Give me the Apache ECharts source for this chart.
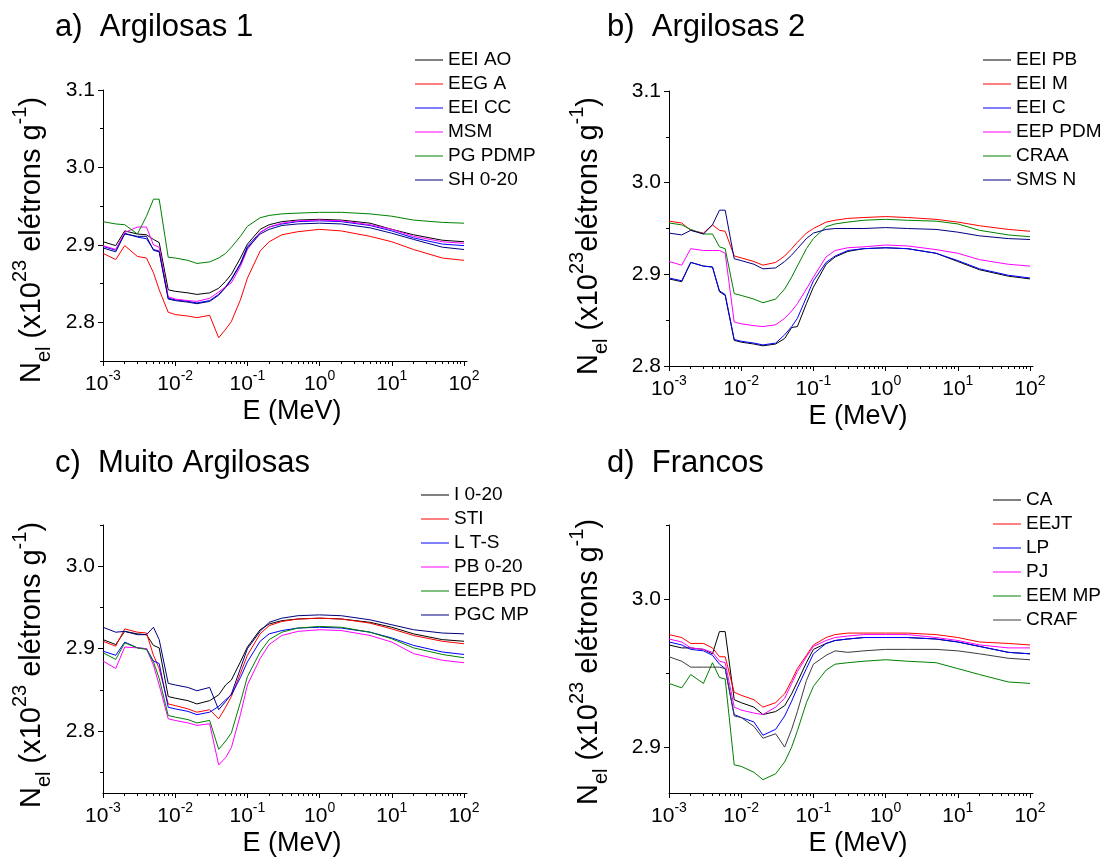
<!DOCTYPE html>
<html>
<head>
<meta charset="utf-8">
<script src="https://cdn.jsdelivr.net/npm/echarts@6/dist/echarts.min.js"></script>
<style>
  html, body { margin: 0; padding: 0; background: #ffffff; }
  #chart { width: 1107px; height: 858px; }
</style>
</head>
<body>
<div id="chart"></div>
<script>
// Photon energy grid (MeV)
const energyMeV = [0.001, 0.0015, 0.002, 0.003, 0.004, 0.005, 0.006, 0.008, 0.01, 0.015, 0.02, 0.03, 0.04, 0.05, 0.06, 0.08,
  0.1, 0.15, 0.2, 0.3, 0.5, 1, 2, 5, 10, 20, 50, 100];

// a) Argilosas 1
const namesA = ['EEI AO', 'EEG A', 'EEI CC', 'MSM', 'PG PDMP', 'SH 0-20'];
const eeiAO  = [2.904, 2.899, 2.918, 2.914, 2.913, 2.907, 2.903, 2.842, 2.840, 2.838, 2.836, 2.838, 2.844, 2.853, 2.862, 2.883, 2.901, 2.920, 2.926, 2.930, 2.932, 2.933, 2.932, 2.928, 2.920, 2.913, 2.906, 2.904];
const eegA   = [2.889, 2.881, 2.899, 2.885, 2.883, 2.864, 2.842, 2.813, 2.810, 2.808, 2.806, 2.809, 2.780, 2.791, 2.801, 2.829, 2.857, 2.892, 2.904, 2.913, 2.917, 2.920, 2.918, 2.911, 2.904, 2.894, 2.883, 2.880];
const eeiCC  = [2.898, 2.893, 2.915, 2.910, 2.908, 2.894, 2.892, 2.831, 2.829, 2.827, 2.825, 2.828, 2.836, 2.846, 2.856, 2.876, 2.898, 2.916, 2.923, 2.927, 2.930, 2.931, 2.930, 2.925, 2.918, 2.909, 2.901, 2.899];
const msm    = [2.899, 2.894, 2.916, 2.923, 2.923, 2.900, 2.897, 2.833, 2.830, 2.828, 2.827, 2.831, 2.839, 2.846, 2.851, 2.872, 2.894, 2.916, 2.923, 2.928, 2.931, 2.932, 2.931, 2.926, 2.920, 2.911, 2.904, 2.902];
const pgPDMP = [2.930, 2.927, 2.926, 2.914, 2.937, 2.959, 2.959, 2.884, 2.883, 2.880, 2.876, 2.878, 2.883, 2.889, 2.897, 2.911, 2.924, 2.935, 2.938, 2.940, 2.941, 2.942, 2.942, 2.940, 2.937, 2.932, 2.929, 2.928];
const sh020  = [2.896, 2.891, 2.914, 2.911, 2.911, 2.893, 2.891, 2.830, 2.828, 2.826, 2.824, 2.827, 2.835, 2.845, 2.855, 2.875, 2.896, 2.914, 2.920, 2.925, 2.927, 2.928, 2.927, 2.922, 2.915, 2.907, 2.897, 2.894];

// b) Argilosas 2
const namesB = ['EEI PB', 'EEI M', 'EEI C', 'EEP PDM', 'CRAA', 'SMS N'];
const eeiPB  = [2.895, 2.892, 2.913, 2.909, 2.908, 2.881, 2.877, 2.828, 2.826, 2.824, 2.822, 2.824, 2.830, 2.842, 2.843, 2.868, 2.886, 2.911, 2.919, 2.925, 2.928, 2.929, 2.928, 2.923, 2.914, 2.905, 2.898, 2.895];
const eeiM   = [2.958, 2.956, 2.948, 2.945, 2.954, 2.948, 2.947, 2.920, 2.918, 2.914, 2.910, 2.913, 2.920, 2.928, 2.935, 2.945, 2.950, 2.957, 2.959, 2.961, 2.962, 2.963, 2.962, 2.960, 2.957, 2.953, 2.949, 2.947];
const eeiC   = [2.896, 2.893, 2.913, 2.909, 2.908, 2.882, 2.878, 2.829, 2.827, 2.825, 2.823, 2.825, 2.834, 2.843, 2.852, 2.875, 2.893, 2.913, 2.920, 2.926, 2.928, 2.929, 2.928, 2.923, 2.915, 2.906, 2.899, 2.896];
const eepPDM = [2.914, 2.910, 2.928, 2.926, 2.926, 2.926, 2.923, 2.848, 2.846, 2.844, 2.843, 2.845, 2.852, 2.860, 2.868, 2.884, 2.897, 2.919, 2.926, 2.929, 2.930, 2.932, 2.931, 2.927, 2.923, 2.916, 2.911, 2.909];
const craa   = [2.956, 2.954, 2.949, 2.944, 2.944, 2.930, 2.928, 2.879, 2.877, 2.873, 2.869, 2.873, 2.884, 2.897, 2.909, 2.928, 2.939, 2.952, 2.955, 2.957, 2.959, 2.960, 2.959, 2.958, 2.955, 2.948, 2.943, 2.941];
const smsN   = [2.945, 2.943, 2.948, 2.944, 2.954, 2.970, 2.970, 2.917, 2.915, 2.911, 2.906, 2.907, 2.914, 2.921, 2.928, 2.939, 2.945, 2.949, 2.950, 2.950, 2.950, 2.951, 2.950, 2.949, 2.946, 2.942, 2.939, 2.938];

// c) Muito Argilosas
const namesC = ['I 0-20', 'STI', 'L T-S', 'PB 0-20', 'EEPB PD', 'PGC MP'];
const i020   = [2.911, 2.905, 2.921, 2.918, 2.917, 2.904, 2.901, 2.842, 2.840, 2.837, 2.833, 2.837, 2.844, 2.856, 2.862, 2.884, 2.902, 2.923, 2.930, 2.934, 2.936, 2.937, 2.936, 2.932, 2.926, 2.918, 2.911, 2.909];
const sti    = [2.909, 2.903, 2.924, 2.920, 2.919, 2.892, 2.876, 2.833, 2.831, 2.827, 2.823, 2.826, 2.815, 2.829, 2.842, 2.870, 2.892, 2.918, 2.928, 2.933, 2.936, 2.937, 2.936, 2.931, 2.924, 2.916, 2.909, 2.906];
const lTS    = [2.897, 2.892, 2.908, 2.901, 2.900, 2.885, 2.882, 2.829, 2.827, 2.824, 2.820, 2.823, 2.830, 2.838, 2.844, 2.865, 2.884, 2.909, 2.918, 2.922, 2.925, 2.926, 2.925, 2.920, 2.913, 2.904, 2.896, 2.893];
const pb020  = [2.885, 2.876, 2.902, 2.901, 2.900, 2.880, 2.856, 2.815, 2.813, 2.810, 2.807, 2.809, 2.759, 2.768, 2.780, 2.820, 2.856, 2.888, 2.905, 2.916, 2.921, 2.923, 2.922, 2.916, 2.908, 2.894, 2.886, 2.883];
const eepbPD = [2.895, 2.887, 2.907, 2.901, 2.899, 2.884, 2.864, 2.819, 2.817, 2.814, 2.810, 2.813, 2.778, 2.788, 2.798, 2.835, 2.866, 2.896, 2.911, 2.920, 2.925, 2.927, 2.926, 2.920, 2.912, 2.901, 2.893, 2.889];
const pgcMP  = [2.926, 2.920, 2.921, 2.917, 2.917, 2.926, 2.911, 2.858, 2.856, 2.853, 2.849, 2.853, 2.826, 2.836, 2.845, 2.876, 2.900, 2.921, 2.932, 2.937, 2.940, 2.941, 2.940, 2.935, 2.929, 2.923, 2.919, 2.918];

// d) Francos
const namesD = ['CA', 'EEJT', 'LP', 'PJ', 'EEM MP', 'CRAF'];
const ca     = [2.969, 2.967, 2.967, 2.966, 2.963, 2.978, 2.978, 2.932, 2.930, 2.927, 2.922, 2.924, 2.928, 2.936, 2.944, 2.957, 2.966, 2.970, 2.972, 2.973, 2.974, 2.974, 2.974, 2.973, 2.971, 2.968, 2.964, 2.963];
const eejt   = [2.976, 2.974, 2.970, 2.970, 2.967, 2.961, 2.961, 2.937, 2.935, 2.932, 2.927, 2.930, 2.936, 2.945, 2.953, 2.962, 2.969, 2.974, 2.976, 2.977, 2.977, 2.977, 2.977, 2.976, 2.974, 2.971, 2.970, 2.969];
const lp     = [2.971, 2.969, 2.966, 2.965, 2.962, 2.956, 2.953, 2.922, 2.920, 2.917, 2.908, 2.912, 2.921, 2.931, 2.940, 2.953, 2.963, 2.970, 2.972, 2.973, 2.974, 2.974, 2.974, 2.973, 2.971, 2.968, 2.964, 2.963];
const pj     = [2.973, 2.971, 2.967, 2.966, 2.964, 2.958, 2.957, 2.927, 2.925, 2.923, 2.922, 2.927, 2.933, 2.943, 2.951, 2.961, 2.968, 2.972, 2.974, 2.975, 2.976, 2.976, 2.976, 2.974, 2.972, 2.969, 2.967, 2.967];
const eemMP  = [2.943, 2.940, 2.949, 2.943, 2.957, 2.947, 2.946, 2.888, 2.887, 2.883, 2.878, 2.882, 2.890, 2.900, 2.911, 2.930, 2.941, 2.952, 2.956, 2.957, 2.958, 2.959, 2.958, 2.957, 2.953, 2.949, 2.944, 2.943];
const craf   = [2.961, 2.958, 2.954, 2.954, 2.954, 2.954, 2.953, 2.921, 2.920, 2.914, 2.906, 2.909, 2.900, 2.912, 2.924, 2.945, 2.956, 2.962, 2.965, 2.964, 2.965, 2.966, 2.966, 2.966, 2.965, 2.963, 2.960, 2.959];

// Axis tick positions
const xMajorTicks = [0.001, 0.01, 0.1, 1, 10, 100];
const yMajorTicksAB = [2.8, 2.9, 3.0, 3.1];
const yMinorTicksA = [2.75, 2.85, 2.95, 3.05];
const yMinorTicksB = [2.85, 2.95, 3.05];
const yMajorTicksC = [2.8, 2.9, 3.0];
const yMinorTicksC = [2.75, 2.85, 2.95, 3.05];
const yMajorTicksD = [2.9, 3.0];
const yMinorTicksD = [2.95, 3.05];

const FONT = '"Liberation Sans", Arial, Helvetica, sans-serif';
const palette = ['#000000', '#ff0000', '#0000ff', '#ff00ff', '#008000', '#000080'];
const paletteD = ['#000000', '#ff0000', '#0000ff', '#ff00ff', '#008000', '#3c3c3c'];

// minor ticks of the log axis: 2..9 x 10^n
const xMinorTicks = [];
for (let p = -3; p <= 1; p++) {
  for (let k = 2; k <= 9; k++) xMinorTicks.push(+(k * Math.pow(10, p)).toPrecision(3));
}

const panels = [
  { title: 'a)  Argilosas 1', names: namesA, values: [eeiAO, eegA, eeiCC, msm, pgPDMP, sh020], colors: palette,
    grid: { left: 103, top: 90, width: 364, height: 271 }, yMin: 2.75, yMax: 3.1,
    yMajor: yMajorTicksAB, yMinor: yMinorTicksA, titlePos: [55, 12], legendPos: [415, 50], yName: [32, 240], gap: ' ' },
  { title: 'b)  Argilosas 2', names: namesB, values: [eeiPB, eeiM, eeiC, eepPDM, craa, smsN], colors: palette,
    grid: { left: 669, top: 91, width: 364, height: 275 }, yMin: 2.8, yMax: 3.1,
    yMajor: yMajorTicksAB, yMinor: yMinorTicksB, titlePos: [607, 12], legendPos: [983, 50], yName: [589, 236], gap: '' },
  { title: 'c)  Muito Argilosas', names: namesC, values: [i020, sti, lTS, pb020, eepbPD, pgcMP], colors: palette,
    grid: { left: 103, top: 525, width: 364, height: 271 }, yMin: 2.725, yMax: 3.05,
    yMajor: yMajorTicksC, yMinor: yMinorTicksC, titlePos: [55, 448], legendPos: [421, 485], yName: [32, 665], gap: ' ' },
  { title: 'd)  Francos', names: namesD, values: [ca, eejt, lp, pj, eemMP, craf], colors: paletteD,
    grid: { left: 669, top: 525, width: 364, height: 271 }, yMin: 2.869, yMax: 3.05,
    yMajor: yMajorTicksD, yMinor: yMinorTicksD, titlePos: [607, 448], legendPos: [993, 490], yName: [589, 662], gap: ' ' }
];

const option = {
  animation: false,
  backgroundColor: '#ffffff',
  textStyle: { fontFamily: FONT, color: '#000' },
  title: [], grid: [], xAxis: [], yAxis: [], legend: [], series: [], graphic: []
};

panels.forEach((p, i) => {
  option.title.push({
    text: p.title, left: p.titlePos[0], top: p.titlePos[1], padding: 0,
    textStyle: { fontFamily: FONT, fontSize: 31, fontWeight: 'normal', color: '#000' }
  });
  option.grid.push(Object.assign({ containLabel: false }, p.grid));

  // main x axis (log) with decade ticks and labels
  option.xAxis.push({
    type: 'log', logBase: 10, gridIndex: i, min: 0.001, max: 110,
    axisLine: { show: true, lineStyle: { color: '#000', width: 1 } },
    axisTick: { show: true, inside: false, length: 5, customValues: xMajorTicks, lineStyle: { color: '#000' } },
    axisLabel: {
      customValues: xMajorTicks, margin: 8,
      formatter: v => '{b|10}{s|' + Math.round(Math.log10(v)) + '}',
      rich: {
        b: { fontFamily: FONT, fontSize: 21, lineHeight: 30, color: '#000' },
        s: { fontFamily: FONT, fontSize: 14, lineHeight: 14, verticalAlign: 'top', color: '#000' }
      }
    },
    splitLine: { show: false },
    name: 'E (MeV)', nameLocation: 'middle', nameGap: 37,
    nameTextStyle: { fontFamily: FONT, fontSize: 27, color: '#000', padding: [0, 0, 0, 14] }
  });
  // companion x axis carrying the minor ticks
  option.xAxis.push({
    type: 'log', logBase: 10, gridIndex: i, min: 0.001, max: 110, position: 'bottom',
    axisLine: { show: false },
    axisTick: { show: true, inside: false, length: 3, customValues: xMinorTicks, lineStyle: { color: '#000' } },
    axisLabel: { show: false }, splitLine: { show: false }
  });

  option.yAxis.push({
    type: 'value', gridIndex: i, min: p.yMin, max: p.yMax,
    axisLine: { show: true, lineStyle: { color: '#000', width: 1 } },
    axisTick: { show: true, inside: false, length: 5, customValues: p.yMajor, lineStyle: { color: '#000' } },
    axisLabel: { customValues: p.yMajor, formatter: v => v.toFixed(1), fontFamily: FONT, fontSize: 21, color: '#000', margin: 8 },
    splitLine: { show: false }
  });
  option.yAxis.push({
    type: 'value', gridIndex: i, min: p.yMin, max: p.yMax, position: 'left',
    axisLine: { show: false },
    axisTick: { show: true, inside: false, length: 3, customValues: p.yMinor, lineStyle: { color: '#000' } },
    axisLabel: { show: false }, splitLine: { show: false }
  });

  option.legend.push({
    data: p.names, orient: 'vertical', left: p.legendPos[0], top: p.legendPos[1], padding: 0,
    icon: 'rect', itemWidth: 28, itemHeight: 1, itemGap: 4, selectedMode: false,
    textStyle: { fontFamily: FONT, fontSize: 19, lineHeight: 20, color: '#000' }
  });

  p.names.forEach((name, s) => {
    option.series.push({
      type: 'line', name: name, xAxisIndex: 2 * i, yAxisIndex: 2 * i,
      data: energyMeV.map((e, k) => [e, p.values[s][k]]),
      symbol: 'none', showSymbol: false, silent: true,
      lineStyle: { width: 1, color: p.colors[s] }, itemStyle: { color: p.colors[s] },
      emphasis: { disabled: true }
    });
  });

  // rotated y axis title with sub/superscripts
  option.graphic.push({
    type: 'text', x: p.yName[0], y: p.yName[1], rotation: Math.PI / 2,
    style: {
      text: '{n|N}{sb|el}{t| (x10}{sp|23}{t|' + p.gap + 'elétrons g}{sp|-1}{t|)}',
      align: 'center', verticalAlign: 'middle',
      rich: {
        n: { fontFamily: FONT, fontSize: 29, lineHeight: 44, fill: '#000' },
        t: { fontFamily: FONT, fontSize: 29, lineHeight: 44, fill: '#000' },
        sb: { fontFamily: FONT, fontSize: 20, lineHeight: 20, verticalAlign: 'bottom', fill: '#000' },
        sp: { fontFamily: FONT, fontSize: 20, lineHeight: 20, verticalAlign: 'top', fill: '#000' }
      }
    }
  });
});

const chart = echarts.init(document.getElementById('chart'), null, { renderer: 'canvas' });
chart.setOption(option);
</script>
</body>
</html>
